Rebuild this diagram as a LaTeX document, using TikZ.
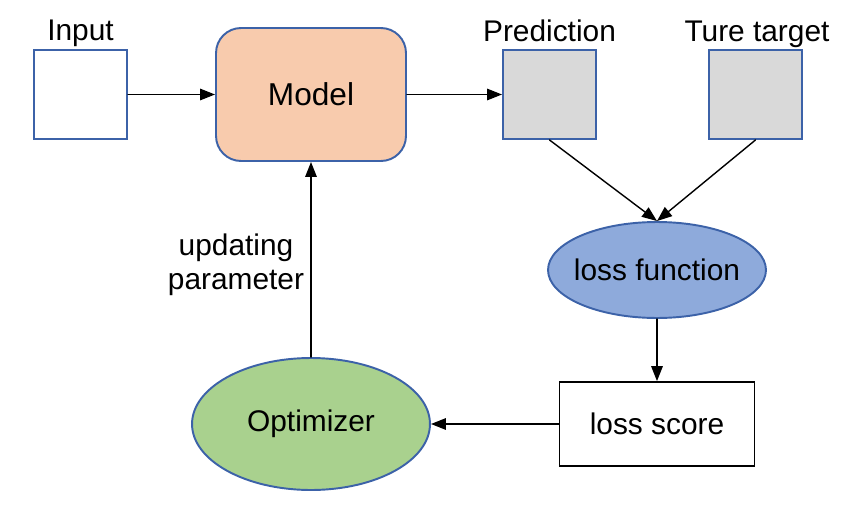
\documentclass[tikz,border=0pt]{standalone}
\usepackage{fontspec}
\setmainfont{Liberation Sans}
\usetikzlibrary{arrows.meta, shapes.geometric}
\definecolor{edgeblue}{HTML}{3C62A8}
\definecolor{modelfill}{HTML}{F8CBAD}
\definecolor{boxgrey}{HTML}{D9D9D9}
\definecolor{lossfill}{HTML}{8EAADB}
\definecolor{optfill}{HTML}{A9D18E}

\begin{document}
\begin{tikzpicture}[x=0.02cm, y=-0.02cm, line cap=round,
    txt/.style={font=\fontsize{17}{19.5}\selectfont},
    databox/.style={draw=edgeblue, line width=1.1pt, minimum width=1.86cm, minimum height=1.78cm, inner sep=0pt},
    arr/.style={-{Triangle[length=0.3cm, width=0.23cm]}, line width=0.8pt}]
            \useasboundingbox (0,0) rectangle (850,511);
            \node[databox, fill=white] (input) at (80.5,94.5) {};   %input
            \node[draw=edgeblue, fill=modelfill, line width=1.1pt, rounded corners=0.5cm, minimum width=3.8cm, minimum height=2.66cm, font=\fontsize{18}{20}\selectfont] (model) at (311,94.5) {Model};
            \node[databox, fill=boxgrey] (pred) at (549.5,94.5) {};   %prediction
            \node[databox, fill=boxgrey] (target) at (755.5,94.5) {};   %target
            \node[txt, anchor=base] (inputlbl) at (80.5,40) {Input};
            \node[txt, anchor=base] (predlbl) at (549.5,41) {Prediction};
            \node[txt, anchor=base] (targetlbl) at (757,41) {Ture target};
            \node[ellipse, draw=edgeblue, fill=lossfill, line width=1.1pt, minimum width=4.36cm, minimum height=1.92cm, inner ysep=0pt, inner xsep=-0.2cm, txt] (lossf) at (657,270) {loss function};
            \node[draw=black, fill=white, line width=1pt, minimum width=3.9cm, minimum height=1.68cm, txt] (score) at (657,424) {loss score};
            \node[ellipse, draw=edgeblue, fill=optfill, line width=1.1pt, minimum width=4.76cm, minimum height=2.64cm, inner sep=0pt, txt] (opt) at (311,424) {Optimizer};
            \node[txt, align=center] (updlbl) at (236,265) {updating\\parameter};
            \draw[arr] (input) -- (model);
            \draw[arr] (model) -- (pred);
            \draw[arr] (pred.south) -- (lossf.north);
            \draw[arr] (target.south) -- (lossf.north);
            \draw[arr] (lossf) -- (score);
            \draw[arr] (score) -- (opt);
            \draw[arr] (opt) -- (model);
\end{tikzpicture}
\end{document}
